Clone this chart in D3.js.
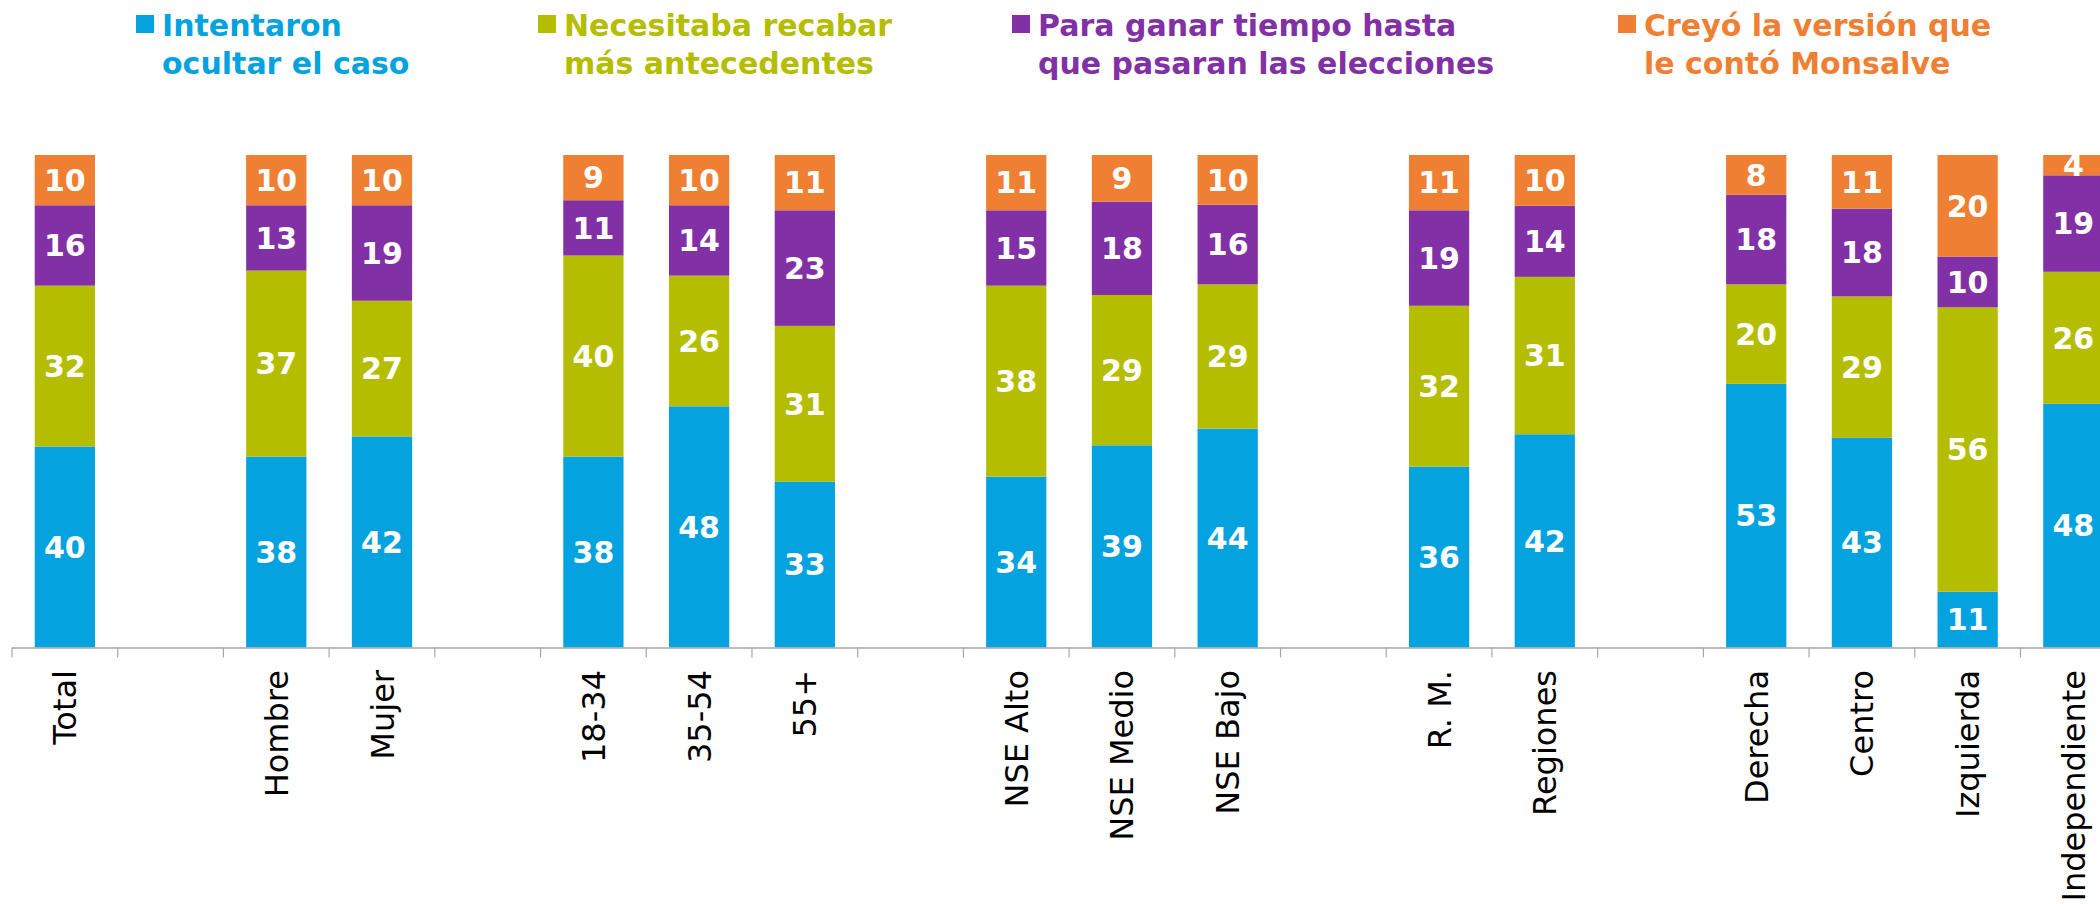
<!DOCTYPE html>
<html>
<head>
<meta charset="utf-8">
<title></title>
<script src="https://d3js.org/d3.v7.min.js"></script>
<style>
body { margin: 0; overflow: hidden; background: #fff; }
svg { display: block; }
</style>
</head>
<body>
<div id="chart-container"></div>
<script>
// categories (null = spacer between groups)
const categories = ['Total', null, 'Hombre', 'Mujer', null, '18-34', '35-54', '55+', null,
    'NSE Alto', 'NSE Medio', 'NSE Bajo', null, 'R. M.', 'Regiones', null,
    'Derecha', 'Centro', 'Izquierda', 'Independiente'];

const ocultar      = [40, null, 38, 42, null, 38, 48, 33, null, 34, 39, 44, null, 36, 42, null, 53, 43, 11, 48];
const antecedentes = [32, null, 37, 27, null, 40, 26, 31, null, 38, 29, 29, null, 32, 31, null, 20, 29, 56, 26];
const elecciones   = [16, null, 13, 19, null, 11, 14, 23, null, 15, 18, 16, null, 19, 14, null, 18, 18, 10, 19];
const monsalve     = [10, null, 10, 10, null,  9, 10, 11, null, 11,  9, 10, null, 11, 10, null,  8, 11, 20,  4];

const seriesKeys = ['ocultar', 'antecedentes', 'elecciones', 'monsalve'];
const seriesNames = [
    ['Intentaron', 'ocultar el caso'],
    ['Necesitaba recabar', 'más antecedentes'],
    ['Para ganar tiempo hasta', 'que pasaran las elecciones'],
    ['Creyó la versión que', 'le contó Monsalve']
];
const colors = ['#04a3e0', '#b5bd00', '#8230a6', '#ef7f33'];

const W = 2100, H = 904;
const baseY = 647.5, topY = 155;

const rows = categories.map((c, i) => ({
    idx: i,
    label: c,
    ocultar: ocultar[i] || 0,
    antecedentes: antecedentes[i] || 0,
    elecciones: elecciones[i] || 0,
    monsalve: monsalve[i] || 0
}));

const svg = d3.select('#chart-container').append('svg')
    .attr('width', W)
    .attr('height', H);

const step = 105.71;
const xScale = d3.scaleBand()
    .domain(rows.map(d => d.idx))
    .range([12, 12 + step * categories.length])
    .paddingInner(0.43)
    .paddingOuter(0.215);

const yScale = d3.scaleLinear()
    .domain([0, 1])
    .range([baseY, topY]);

const stacked = d3.stack()
    .keys(seriesKeys)
    .offset(d3.stackOffsetExpand)(rows.filter(d => d.label !== null));

const layers = svg.selectAll('.layer')
    .data(stacked)
    .join('g')
    .attr('class', 'layer')
    .attr('fill', (d, i) => colors[i]);

layers.selectAll('rect')
    .data(d => d)
    .join('rect')
    .attr('x', d => xScale(d.data.idx))
    .attr('width', xScale.bandwidth())
    .attr('y', d => yScale(d[1]))
    .attr('height', d => yScale(d[0]) - yScale(d[1]));

// value labels
const labels = svg.append('g').attr('class', 'values');
stacked.forEach(layer => {
    labels.selectAll(null)
        .data(layer)
        .join('text')
        .attr('x', d => xScale(d.data.idx) + xScale.bandwidth() / 2)
        .attr('y', d => (yScale(d[0]) + yScale(d[1])) / 2)
        .attr('text-anchor', 'middle')
        .attr('dy', '0.36em')
        .style('font-family', 'DejaVu Sans')
        .style('font-weight', 'bold')
        .style('font-size', '30px')
        .style('fill', '#fff')
        .text(d => d.data[layer.key]);
});

// x axis: line, boundary ticks, rotated labels
const axis = svg.append('g').attr('class', 'x-axis');
axis.append('line')
    .attr('x1', xScale.range()[0])
    .attr('x2', xScale.range()[1])
    .attr('y1', baseY + 0.5)
    .attr('y2', baseY + 0.5)
    .attr('stroke', '#a6a6a6')
    .attr('stroke-width', 1.5);

axis.selectAll('.tick')
    .data(rows)
    .join('line')
    .attr('class', 'tick')
    .attr('x1', d => xScale(d.idx) + xScale.bandwidth() / 2 - xScale.step() / 2)
    .attr('x2', d => xScale(d.idx) + xScale.bandwidth() / 2 - xScale.step() / 2)
    .attr('y1', baseY)
    .attr('y2', baseY + 10)
    .attr('stroke', '#a6a6a6')
    .attr('stroke-width', 1.2);

axis.selectAll('.cat')
    .data(rows.filter(d => d.label !== null))
    .join('text')
    .attr('class', 'cat')
    .attr('transform', d => `translate(${xScale(d.idx) + xScale.bandwidth() / 2},670) rotate(-90)`)
    .attr('text-anchor', 'end')
    .attr('dy', '0.36em')
    .style('font-family', 'DejaVu Sans')
    .style('font-size', '32px')
    .style('fill', '#000')
    .text(d => d.label);

// legend
const legendX = [136, 538, 1012, 1618];
const legend = svg.append('g').attr('class', 'legend');
seriesNames.forEach((lines, i) => {
    const g = legend.append('g').attr('transform', `translate(${legendX[i]},0)`);
    g.append('rect')
        .attr('x', 0)
        .attr('y', 15)
        .attr('width', 18)
        .attr('height', 18)
        .attr('fill', colors[i]);
    g.selectAll('text')
        .data(lines)
        .join('text')
        .attr('x', 26)
        .attr('y', (d, j) => 36 + j * 37.5)
        .style('font-family', 'DejaVu Sans')
        .style('font-weight', 'bold')
        .style('font-size', '30px')
        .style('fill', colors[i])
        .text(d => d);
});
</script>
</body>
</html>
